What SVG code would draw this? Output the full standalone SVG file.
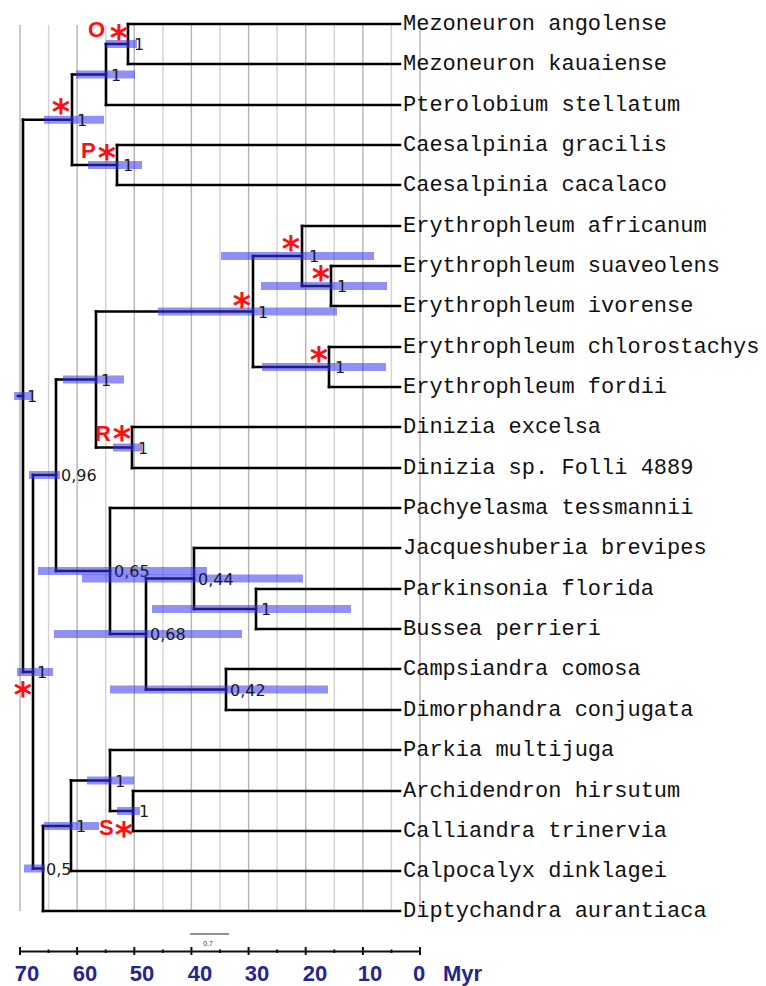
<svg xmlns="http://www.w3.org/2000/svg" width="766" height="986" viewBox="0 0 766 986">
<defs>
<style>
.g10{stroke:#b4b4b4;stroke-width:1.4}
.g5{stroke:#d2d2d2;stroke-width:1.4}
.br{fill:none;stroke:#000;stroke-width:2.6;stroke-linecap:square}
.hpd{fill:#3535f0;fill-opacity:0.55}
.pp{font-family:"DejaVu Sans",sans-serif;font-size:16px;fill:#1a1a1a}
.tx{font-family:"Liberation Mono","Courier New",monospace;font-size:22px;fill:#111}
.ast{font-family:"DejaVu Sans",sans-serif;font-weight:bold;font-size:35px;fill:#ff1010;text-anchor:middle}
.ltr{font-family:"Liberation Sans",Arial,sans-serif;font-weight:bold;font-size:22px;fill:#ff1010}
.ax{font-family:"Liberation Sans",Arial,sans-serif;font-weight:bold;font-size:22px;fill:#25258f;text-anchor:middle}
</style>
</defs>
<rect width="766" height="986" fill="#fff"/>
<g id="grid">
<line class="g10" x1="20" y1="25" x2="20" y2="911"/>
<line class="g5" x1="48.6" y1="25" x2="48.6" y2="912"/>
<line class="g10" x1="77.1" y1="25" x2="77.1" y2="912"/>
<line class="g5" x1="105.7" y1="25" x2="105.7" y2="912"/>
<line class="g10" x1="134.3" y1="25" x2="134.3" y2="912"/>
<line class="g5" x1="162.9" y1="25" x2="162.9" y2="912"/>
<line class="g10" x1="191.4" y1="25" x2="191.4" y2="912"/>
<line class="g5" x1="220" y1="25" x2="220" y2="912"/>
<line class="g10" x1="248.6" y1="25" x2="248.6" y2="912"/>
<line class="g5" x1="277.1" y1="25" x2="277.1" y2="912"/>
<line class="g10" x1="305.7" y1="25" x2="305.7" y2="912"/>
<line class="g5" x1="334.3" y1="25" x2="334.3" y2="912"/>
<line class="g10" x1="362.9" y1="25" x2="362.9" y2="912"/>
<line class="g5" x1="391.4" y1="25" x2="391.4" y2="912"/>
<line class="g10" x1="420" y1="25" x2="420" y2="912"/>
</g>
<g id="connectors" class="br">
<path d="M128 24H400M128 64H400M106 105H400M117 145H400M117 185H400M302 226H400M331 266H400M331 306H400M329 347H400M329 387H400M132 427H400M132 468H400M110 508H400M194 548H400M256 589H400M256 629H400M226 669H400M226 710H400M110 750H400M133 791H400M133 831H400M71 871H400M43 911H400"/>
<path d="M128 24V64M106 44V105M117 145V185M72 74.5V165M331 266V306M302 226V286M329 347V387M253 256V367M132 427V468M96 311.5V447.5M226 669V710M256 589V629M194 548V609M146 578.5V689.5M110 508V634M56 379.5V571M133 791V831M110 750V811M71 780.5V871M43 826V911M33 475V868.5M23 119.75V672"/>
<path d="M106 44H128M72 74.5H106M72 165H117M23 119.75H72M302 286H331M253 256H302M253 367H329M96 311.5H253M96 447.5H132M56 379.5H96M146 689.5H226M194 609H256M146 578.5H194M110 634H146M56 571H110M33 475H56M110 811H133M71 780.5H110M43 826H71M33 868.5H43M23 672H33M18 396H23"/>
</g>
<g id="node-O"><rect class="hpd" x="106" y="40" width="31" height="8"/><text class="pp" x="134" y="50">1</text><text class="ltr" x="88" y="37">O</text><text class="ast" x="119" y="50">*</text></g>
<g id="node-pterolobium"><rect class="hpd" x="76" y="70.5" width="59" height="8"/><text class="pp" x="111" y="80.5">1</text></g>
<g id="node-caesalpinia-group"><rect class="hpd" x="44" y="115.75" width="60" height="8"/><text class="pp" x="77" y="125.75">1</text><text class="ast" x="61" y="124">*</text></g>
<g id="node-P"><rect class="hpd" x="88" y="161" width="54" height="8"/><text class="pp" x="123" y="171">1</text><text class="ltr" x="81" y="158">P</text><text class="ast" x="107" y="170">*</text></g>
<g id="node-erythrophleum-a"><rect class="hpd" x="221" y="252" width="153" height="8"/><text class="pp" x="309" y="262">1</text><text class="ast" x="291" y="261">*</text></g>
<g id="node-erythrophleum-b"><rect class="hpd" x="261" y="282" width="126" height="8"/><text class="pp" x="337" y="292">1</text><text class="ast" x="321" y="291">*</text></g>
<g id="node-erythrophleum"><rect class="hpd" x="158" y="307.5" width="179" height="8"/><text class="pp" x="258" y="317.5">1</text><text class="ast" x="242" y="318">*</text></g>
<g id="node-erythrophleum-c"><rect class="hpd" x="262" y="363" width="124" height="8"/><text class="pp" x="335" y="373">1</text><text class="ast" x="319" y="372">*</text></g>
<g id="node-R"><rect class="hpd" x="113" y="443.5" width="29" height="8"/><text class="pp" x="138" y="453.5">1</text><text class="ltr" x="95" y="441">R</text><text class="ast" x="122" y="451">*</text></g>
<g id="node-erythrophleum-dinizia"><rect class="hpd" x="63" y="375.5" width="61" height="8"/><text class="pp" x="101" y="385.5">1</text></g>
<g id="node-096"><rect class="hpd" x="29" y="471" width="31" height="8"/><text class="pp" x="61" y="481">0,96</text></g>
<g id="node-065"><rect class="hpd" x="38" y="567" width="169" height="8"/><text class="pp" x="114" y="577">0,65</text></g>
<g id="node-044"><rect class="hpd" x="82" y="574.5" width="221" height="8"/><text class="pp" x="198" y="584.5">0,44</text></g>
<g id="node-parkinsonia-bussea"><rect class="hpd" x="152" y="605" width="199" height="8"/><text class="pp" x="261" y="615">1</text></g>
<g id="node-068"><rect class="hpd" x="54" y="630" width="188" height="8"/><text class="pp" x="150" y="640">0,68</text></g>
<g id="node-042"><rect class="hpd" x="110" y="685.5" width="218" height="8"/><text class="pp" x="230" y="695.5">0,42</text></g>
<g id="node-root2"><rect class="hpd" x="17" y="668" width="36" height="8"/><text class="pp" x="37" y="678">1</text><text class="ast" x="23" y="707">*</text></g>
<g id="node-root"><rect class="hpd" x="14" y="392" width="18" height="8"/><text class="pp" x="27" y="402">1</text></g>
<g id="node-parkia"><rect class="hpd" x="87" y="776.5" width="47" height="8"/><text class="pp" x="115" y="786.5">1</text></g>
<g id="node-S"><rect class="hpd" x="117" y="807" width="23" height="8"/><text class="pp" x="139" y="817">1</text></g>
<g id="node-calliandra-clade"><rect class="hpd" x="44" y="822" width="55" height="8"/><text class="pp" x="76" y="832">1</text><text class="ltr" x="99" y="835">S</text><text class="ast" x="124" y="847">*</text></g>
<g id="node-05"><rect class="hpd" x="24" y="864.5" width="21" height="8"/><text class="pp" x="46" y="874.5">0,5</text></g>
<g id="taxa" class="tx">
<g id="t1"><text x="403" y="30">Mezoneuron angolense</text></g>
<g id="t2"><text x="403" y="70">Mezoneuron kauaiense</text></g>
<g id="t3"><text x="403" y="111">Pterolobium stellatum</text></g>
<g id="t4"><text x="403" y="151">Caesalpinia gracilis</text></g>
<g id="t5"><text x="403" y="191">Caesalpinia cacalaco</text></g>
<g id="t6"><text x="403" y="232">Erythrophleum africanum</text></g>
<g id="t7"><text x="403" y="272">Erythrophleum suaveolens</text></g>
<g id="t8"><text x="403" y="312">Erythrophleum ivorense</text></g>
<g id="t9"><text x="403" y="353">Erythrophleum chlorostachys</text></g>
<g id="t10"><text x="403" y="393">Erythrophleum fordii</text></g>
<g id="t11"><text x="403" y="433">Dinizia excelsa</text></g>
<g id="t12"><text x="403" y="474">Dinizia sp. Folli 4889</text></g>
<g id="t13"><text x="403" y="514">Pachyelasma tessmannii</text></g>
<g id="t14"><text x="403" y="554">Jacqueshuberia brevipes</text></g>
<g id="t15"><text x="403" y="595">Parkinsonia florida</text></g>
<g id="t16"><text x="403" y="635">Bussea perrieri</text></g>
<g id="t17"><text x="403" y="675">Campsiandra comosa</text></g>
<g id="t18"><text x="403" y="716">Dimorphandra conjugata</text></g>
<g id="t19"><text x="403" y="756">Parkia multijuga</text></g>
<g id="t20"><text x="403" y="797">Archidendron hirsutum</text></g>
<g id="t21"><text x="403" y="837">Calliandra trinervia</text></g>
<g id="t22"><text x="403" y="877">Calpocalyx dinklagei</text></g>
<g id="t23"><text x="403" y="917">Diptychandra aurantiaca</text></g>
</g>
<g id="scale-bar">
<line x1="190" y1="934" x2="229" y2="934" stroke="#222" stroke-width="1"/>
<text x="208" y="946" font-family="Liberation Sans,Arial,sans-serif" font-size="7" fill="#333" text-anchor="middle">0.7</text>
</g>
<g id="axis">
<line x1="20" y1="951.5" x2="420" y2="951.5" stroke="#111" stroke-width="2"/>
<path d="M20 947V955M77.1 947V955M134.3 947V955M191.4 947V955M248.6 947V955M305.7 947V955M362.9 947V955M420 947V955M48.6 949.5V953M105.7 949.5V953M162.9 949.5V953M220 949.5V953M277.1 949.5V953M334.3 949.5V953M391.4 949.5V953" stroke="#111" stroke-width="2"/>
<text class="ax" x="27" y="981">70</text>
<text class="ax" x="85" y="981">60</text>
<text class="ax" x="142" y="981">50</text>
<text class="ax" x="200" y="981">40</text>
<text class="ax" x="257" y="981">30</text>
<text class="ax" x="315" y="981">20</text>
<text class="ax" x="370" y="981">10</text>
<text class="ax" x="419" y="981">0</text>
<text class="ax" x="443" y="981" style="text-anchor:start">Myr</text>
</g>
</svg>
